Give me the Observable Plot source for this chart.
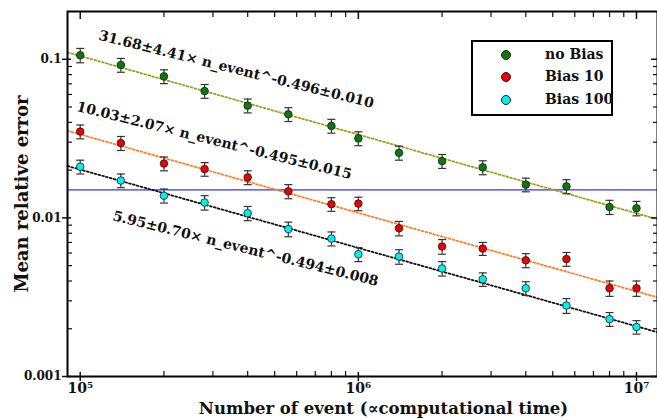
<!DOCTYPE html>
<html><head><meta charset="utf-8">
<script src="https://cdn.jsdelivr.net/npm/d3@7"></script>
<script src="https://cdn.jsdelivr.net/npm/@observablehq/plot@0.6"></script>
<style>
body{margin:0;background:#fff;}
#wrap{position:relative;width:657px;height:420px;overflow:hidden;}
#legend{position:absolute;left:471px;top:40px;width:138px;height:72px;border:2px solid #000;background:#fff;font-family:"DejaVu Serif";font-weight:bold;font-size:14px;color:#111;}
.ldot{position:absolute;left:28px;width:8px;height:8px;border-radius:50%;border:1px solid #222;}
.llab{position:absolute;left:72px;line-height:16px;white-space:nowrap;}
</style></head><body><div id="wrap"></div>
<script>
// ---- data ----
const nEvents = [1e5, 1.4e5, 2e5, 2.8e5, 4e5, 5.6e5, 8e5, 1e6, 1.4e6, 2e6, 2.8e6, 4e6, 5.6e6, 8e6, 1e7];
const seriesNames = ["no Bias", "Bias 10", "Bias 100"];
const noBias  = [0.106, 0.092, 0.078, 0.063, 0.051, 0.045, 0.038, 0.0317, 0.0257, 0.0228, 0.0208, 0.0162, 0.0158, 0.0117, 0.0115];
const bias10  = [0.035, 0.0296, 0.022, 0.0203, 0.018, 0.0147, 0.0122, 0.0123, 0.0086, 0.0066, 0.0064, 0.0054, 0.0055, 0.0036, 0.0036];
const bias100 = [0.021, 0.0172, 0.0138, 0.0125, 0.0107, 0.0085, 0.0074, 0.0059, 0.0057, 0.0048, 0.0041, 0.0036, 0.0028, 0.0023, 0.00205];
const errNoBias  = [0.011, 0.0092, 0.0078, 0.0063, 0.0051, 0.0045, 0.0038, 0.0032, 0.0026, 0.0023, 0.0021, 0.0016, 0.0016, 0.0012, 0.0012];
const errBias10  = [0.0035, 0.003, 0.0022, 0.002, 0.0018, 0.0015, 0.0012, 0.0012, 0.0009, 0.0007, 0.0006, 0.00055, 0.00055, 0.0004, 0.0004];
const errBias100 = [0.0021, 0.0017, 0.0014, 0.0013, 0.0011, 0.0009, 0.00075, 0.0006, 0.0006, 0.0005, 0.0004, 0.00036, 0.0003, 0.00023, 0.0002];
const fitA = [31.68, 10.03, 5.95];
const fitB = [0.496, 0.495, 0.494];
const fitLabels = [
  "31.68±4.41× n_event^-0.496±0.010",
  "10.03±2.07× n_event^-0.495±0.015",
  "5.95±0.70× n_event^-0.494±0.008"
];
const fitLabelX = [3.64e5, 3.03e5, 3.93e5];
const fitLabelY = [0.0863, 0.0307, 0.0064];
const refLevel = 0.015;
const xMajor = [1e5, 1e6, 1e7];
const xMinor = [2e5,3e5,4e5,5e5,6e5,7e5,8e5,9e5,2e6,3e6,4e6,5e6,6e6,7e6,8e6,9e6];
const yMajor = [0.001, 0.01, 0.1];
const yMinor = [0.002,0.003,0.004,0.005,0.006,0.007,0.008,0.009,0.02,0.03,0.04,0.05,0.06,0.07,0.08,0.09];
const xLabel = "Number of event (∝computational time)";
const yLabel = "Mean relative error";

// ---- styles ----
const dotColors = ["#0a7a0a", "#ee0000", "#00f0f0"];
const fitColors = ["#a0a020", "#ff7f2a", "#111111"];
const xDomain = [9e4, 1.19e7];

const values = [noBias, bias10, bias100];
const errs = [errNoBias, errBias10, errBias100];
const pts = [];
values.forEach((arr, s) => arr.forEach((v, i) => pts.push({s, x: nEvents[i], y: v, lo: v - errs[s][i], hi: v + errs[s][i]})));
const fit = [];
fitA.forEach((a, s) => xDomain.forEach(x => fit.push({s, x, y: a * Math.pow(x, -fitB[s])})));
const ann = fitLabels.map((t, i) => ({t, x: fitLabelX[i], y: fitLabelY[i]}));

const cap = {draw(ctx) { ctx.moveTo(-4, 0); ctx.lineTo(4, 0); }};
const sup = {"5": "⁵", "6": "⁶", "7": "⁷"};
const fmtX = d => "10" + sup[String(Math.round(Math.log10(d)))];
const blank = () => "";
const font = "DejaVu Serif";

const chart = Plot.plot({
  width: 657, height: 420,
  marginLeft: 67, marginRight: 0, marginTop: 11, marginBottom: 44,
  style: {fontFamily: font, fontWeight: "bold", background: "#fff", color: "#111"},
  x: {type: "log", domain: xDomain},
  y: {type: "log", domain: [0.001, 0.2]},
  color: {type: "identity"},
  marks: [
    Plot.ruleY([refLevel], {stroke: "#3030ff", strokeWidth: 1.2}),
    Plot.line(fit, {x: "x", y: "y", z: "s", stroke: d => fitColors[d.s], strokeWidth: 1.8, strokeDasharray: "1.8,2.2"}),
    Plot.ruleX(pts, {x: "x", y1: "lo", y2: "hi", stroke: "#333", strokeWidth: 1.2}),
    Plot.dot(pts, {x: "x", y: "hi", symbol: cap, stroke: "#333", strokeWidth: 1.2, fill: "none"}),
    Plot.dot(pts, {x: "x", y: "lo", symbol: cap, stroke: "#333", strokeWidth: 1.2, fill: "none"}),
    Plot.dot(pts, {x: "x", y: "y", r: 3.8, fill: d => dotColors[d.s], stroke: "#1a1a1a", strokeWidth: 0.8}),
    Plot.text(ann, {x: "x", y: "y", text: "t", rotate: 14, fontSize: 14, fontWeight: "bold", textAnchor: "middle", lineAnchor: "middle", fill: "#111"}),
    Plot.frame({stroke: "#000", strokeWidth: 2}),
    // bottom axis
    Plot.axisX({anchor: "bottom", ticks: xMajor, tickSize: 9, dy: -4, tickPadding: 2, tickFormat: fmtX, fontSize: 14, label: null, strokeWidth: 1.5}),
    Plot.axisX({anchor: "bottom", ticks: xMinor, tickSize: 5, dy: -5, tickFormat: blank, label: null, strokeWidth: 1.2}),
    // top axis
    Plot.axisX({anchor: "top", ticks: xMajor, tickSize: 7, dy: 7, tickFormat: blank, label: null, strokeWidth: 1.5}),
    Plot.axisX({anchor: "top", ticks: xMinor, tickSize: 5, dy: 5, tickFormat: blank, label: null, strokeWidth: 1.2}),
    // left axis
    Plot.axisY({anchor: "left", ticks: yMajor, tickSize: 9, dx: 4, tickPadding: 1, tickFormat: d => String(d), fontSize: 12, label: null, strokeWidth: 1.5}),
    Plot.axisY({anchor: "left", ticks: yMinor, tickSize: 5, dx: 5, tickFormat: blank, label: null, strokeWidth: 1.2}),
    // right axis
    Plot.axisY({anchor: "right", ticks: yMajor, tickSize: 7, dx: -7, tickFormat: blank, label: null, strokeWidth: 1.5}),
    Plot.axisY({anchor: "right", ticks: yMinor, tickSize: 5, dx: -5, tickFormat: blank, label: null, strokeWidth: 1.2}),
    Plot.text([xLabel], {text: d => d, frameAnchor: "bottom", textAnchor: "middle", dx: 21, dy: 32, fontSize: 16.5, fontWeight: "bold", lineAnchor: "middle", fill: "#111"}),
    Plot.text([yLabel], {text: d => d, frameAnchor: "left", textAnchor: "middle", dx: -45, rotate: -90, fontSize: 18, fontWeight: "bold", lineAnchor: "middle", fill: "#111"})
  ]
});
const wrap = document.getElementById("wrap");
wrap.appendChild(chart);

// legend overlay
const lg = document.createElement("div");
lg.id = "legend";
const rowTop = [13, 35, 58];
seriesNames.forEach((name, i) => {
  const d = document.createElement("div");
  d.className = "ldot";
  d.style.top = (rowTop[i] - 5) + "px";
  d.style.background = dotColors[i];
  lg.appendChild(d);
  const l = document.createElement("div");
  l.className = "llab";
  l.style.top = (rowTop[i] - 9) + "px";
  l.textContent = name;
  lg.appendChild(l);
});
wrap.appendChild(lg);
</script></body></html>
